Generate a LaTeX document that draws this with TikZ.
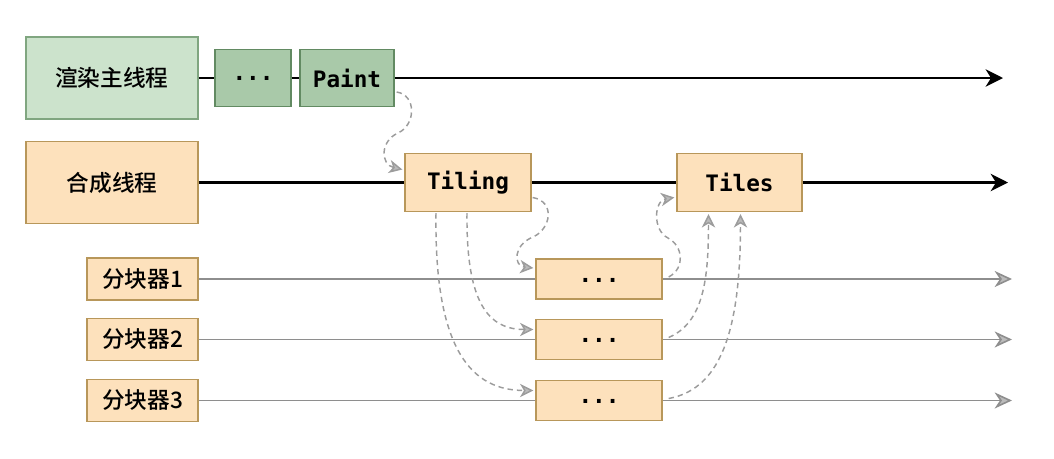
\documentclass[tikz,border=0pt]{standalone}
\usepackage{fontspec}
\setmainfont{Noto Sans CJK SC}[UprightFont=* Medium]
\setmonofont{DejaVu Sans Mono}
\usepackage{tikz}
\usetikzlibrary{arrows.meta}
\usetikzlibrary{calc}

\definecolor{greenfill}{HTML}{CCE3CC}
\definecolor{greenline}{HTML}{80A680}
\definecolor{darkgreenfill}{HTML}{A9C9A9}
\definecolor{darkgreenline}{HTML}{628A62}
\definecolor{orangefill}{HTML}{FDE1BC}
\definecolor{orangeline}{HTML}{B8975A}
\definecolor{flowgray}{HTML}{8E8E8E}
\definecolor{dashgray}{HTML}{9C9C9C}

\begin{document}
\begin{tikzpicture}[x=0.75pt,y=-0.75pt,
    every node/.style={inner sep=0pt,text=black,font=\fontsize{17pt}{20pt}\selectfont},
    greenbox/.style={draw=greenline,fill=greenfill,line width=1pt},
    darkbox/.style={draw=darkgreenline,fill=darkgreenfill,line width=1pt,font=\fontsize{17pt}{20pt}\selectfont\ttfamily\bfseries},
    orangebox/.style={draw=orangeline,fill=orangefill,line width=1pt},
    codebox/.style={orangebox,font=\fontsize{17pt}{20pt}\selectfont\ttfamily\bfseries},
    thread/.style={line width=1.8pt,-{Stealth[length=13pt,width=13pt,inset=4pt]}},
    worker/.style={flowgray,line width=1.2pt,-{Stealth[length=13pt,width=12pt,inset=4pt,fill=flowgray!60]}},
    hop/.style={dashgray,line width=1.1pt,dash pattern=on 4pt off 3pt,-{Stealth[length=10pt,width=10pt,inset=3pt,fill=dashgray!70]}}]
  \useasboundingbox (0,0) rectangle (1054,458);

  % threads
  \node at (112,78) [greenbox,minimum width=129pt,minimum height=61.5pt] (main) {渲染主线程};
  \node at (253,78) [darkbox,minimum width=57pt,minimum height=42.75pt] (prev) {\raisebox{-3pt}{...}};
  \node at (347,78) [darkbox,minimum width=70.5pt,minimum height=42.75pt] (paint) {Paint};

  \node at (112,182.5) [orangebox,minimum width=129pt,minimum height=61.5pt] (comp) {合成线程};
  \node at (468,182.5) [codebox,minimum width=94.5pt,minimum height=43.5pt] (tiling) {Tiling};
  \node at (739.5,182.5) [codebox,minimum width=93.75pt,minimum height=43.5pt] (tiles) {Tiles};

  % tilers
  \node at (142.5,279) [orangebox,minimum width=83.25pt,minimum height=31.5pt] (split1) {分块器1};
  \node at (142.5,339.5) [orangebox,minimum width=83.25pt,minimum height=31.5pt] (split2) {分块器2};
  \node at (142.5,400.5) [orangebox,minimum width=83.25pt,minimum height=31.5pt] (split3) {分块器3};

  \node at (599,279) [codebox,minimum width=94.5pt,minimum height=30pt] (work1) {\raisebox{-5pt}{...}};
  \node at (599,339.5) [codebox,minimum width=94.5pt,minimum height=30pt] (work2) {\raisebox{-5pt}{...}};
  \node at (599,400.5) [codebox,minimum width=94.5pt,minimum height=30pt] (work3) {\raisebox{-5pt}{...}};

  \coordinate (mainend) at (1003,78);
  \coordinate (compend) at (1008,182.5);
  \coordinate (end1) at (1012,279);
  \coordinate (end2) at (1012,339.5);
  \coordinate (end3) at (1012,400.5);

  \draw[line width=1.8pt] (main) -- (prev);
  \draw[line width=1.8pt] (prev) -- (paint);
  \draw[thread] (paint) -- (mainend);
  \draw[line width=1.8pt] (comp) -- (tiling);
  \draw[line width=1.8pt] (tiling) -- (tiles);
  \draw[thread] (tiles) -- (compend);

  \draw[flowgray, line width=1.2pt] (split1) -- (work1);
  \draw[flowgray, line width=1.2pt] (split2) -- (work2);
  \draw[flowgray, line width=1.2pt] (split3) -- (work3);
  \draw[worker] (work1) -- (end1);
  \draw[worker] (work2) -- (end2);
  \draw[worker] (work3) -- (end3);

  % dashed hand-offs
  \draw[hop] ($(paint.east)+(2,14)$) .. controls +(20,3) and +(18,-8) .. (398,133)
    .. controls +(-18,8) and +(-22,-5) .. ($(tiling.west)+(-2,-13)$);
  \draw[hop] ($(tiling.east)+(1,15)$) .. controls +(23,4) and +(18,-8) .. (533,237)
    .. controls +(-20,8) and +(-20,-2) .. ($(work1.west)+(-2,-11)$);
  \draw[hop] ($(tiling.south)+(-1,1)$) .. controls +(-1,90) and +(-45,0) .. ($(work2.west)+(-2,-10)$);
  \draw[hop] ($(tiling.south)+(-32,1)$) .. controls +(-2,140) and +(-60,0) .. ($(work3.west)+(-2,-10)$);

  \draw[hop] ($(work1.east)+(6,-2)$) .. controls +(17,-9) and +(15,8) .. (668,238)
    .. controls +(-16,-8) and +(-20,3) .. ($(tiles.west)+(-2,15)$);
  \draw[hop] ($(work2.east)+(6,-2)$) .. controls +(35,-15) and +(0,65) .. ($(tiles.south)+(-31,2)$);
  \draw[hop] ($(work3.east)+(6,-2)$) .. controls +(55,-10) and +(0,110) .. ($(tiles.south)+(1,2)$);
\end{tikzpicture}
\end{document}
